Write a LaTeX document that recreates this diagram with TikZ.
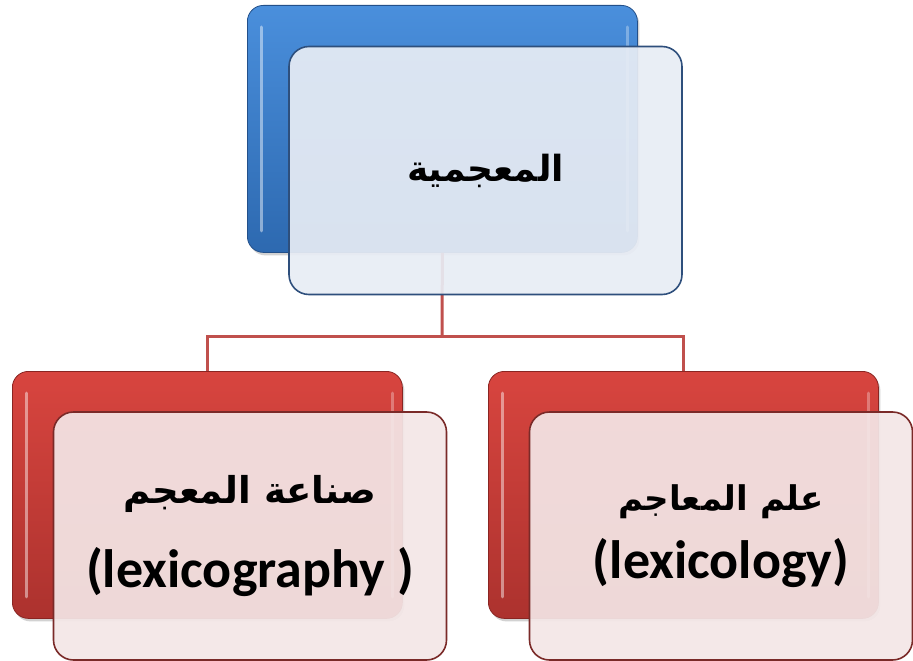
\documentclass[tikz,border=0pt]{standalone}
\usepackage{fontspec}
\setmainfont{Carlito}
\newfontfamily\arabicfont[Script=Arabic]{DejaVu Sans}
\TeXXeTstate=1
\usetikzlibrary{shadows}
\definecolor{bluetop}{HTML}{4A8FDC}
\definecolor{bluebot}{HTML}{2D69B0}
\definecolor{blueedge}{HTML}{23508A}
\definecolor{frontblue}{HTML}{E8EDF5}
\definecolor{borderblue}{HTML}{2E4F7C}
\definecolor{redtop}{HTML}{D8453F}
\definecolor{redbot}{HTML}{AC322E}
\definecolor{rededge}{HTML}{8A2522}
\definecolor{frontred}{HTML}{F4E7E7}
\definecolor{borderred}{HTML}{7A2A28}
\definecolor{linkred}{HTML}{C0504D}
\tikzset{
  backbox/.style={rectangle, rounded corners=16pt, anchor=north west, inner sep=0pt,
    minimum width=390pt, minimum height=247pt, draw=#1edge, line width=0.8pt,
    top color=#1top, bottom color=#1bot,
    drop shadow={shadow xshift=2pt, shadow yshift=-3pt, opacity=0.35}},
  frontbox/.style={rectangle, rounded corners=20pt, inner sep=0pt,
    minimum width=393pt, minimum height=248pt, draw=border#1, line width=1.6pt,
    fill=front#1, fill opacity=0.92, text opacity=1, align=center, text=black,
    font=\bfseries\fontsize{54}{64}\selectfont},
  link/.style={draw=linkred, line width=3pt}
}
\begin{document}
\begin{tikzpicture}[x=1pt,y=-1pt]
\useasboundingbox[fill=white] (0,0) rectangle (913,661);
% back boxes
\node[backbox=blue] (topback) at (247,5) {};
\node[backbox=red] (leftback) at (12,371) {};
\node[backbox=red] (rightback) at (488,371) {};
% highlight stripes
\foreach \b in {topback,leftback,rightback}{
  \draw[white, opacity=0.45, line width=3pt, line cap=round]
    ([xshift=14pt,yshift=-22pt]\b.north west) -- ([xshift=14pt,yshift=22pt]\b.south west);
  \draw[white, opacity=0.3, line width=3pt, line cap=round]
    ([xshift=-10pt,yshift=-22pt]\b.north east) -- ([xshift=-10pt,yshift=22pt]\b.south east);
}
% connectors
\coordinate (mid) at (442,336);
\draw[link] (topback.south) -- (mid);
\draw[link] (mid) -| (leftback.north);
\draw[link] (mid) -| (rightback.north);
% front boxes
\node[frontbox=blue] (topfront) at (485.5,170.5)
  {\beginR{\arabicfont\bfseries\fontsize{36}{64}\selectfont المعجمية}\endR};
\node[frontbox=red] (leftfront) at (250,536)
  {\beginR{\arabicfont\bfseries\fontsize{37}{64}\selectfont صناعة المعجم}\endR\\[20pt]
   (lexicography )};
\node[frontbox=red, minimum width=383pt] (rightfront) at (721,536)
  {\beginR{\arabicfont\bfseries\fontsize{34}{64}\selectfont علم المعاجم}\endR\\[4pt]
   (lexicology)};
\end{tikzpicture}
\end{document}
